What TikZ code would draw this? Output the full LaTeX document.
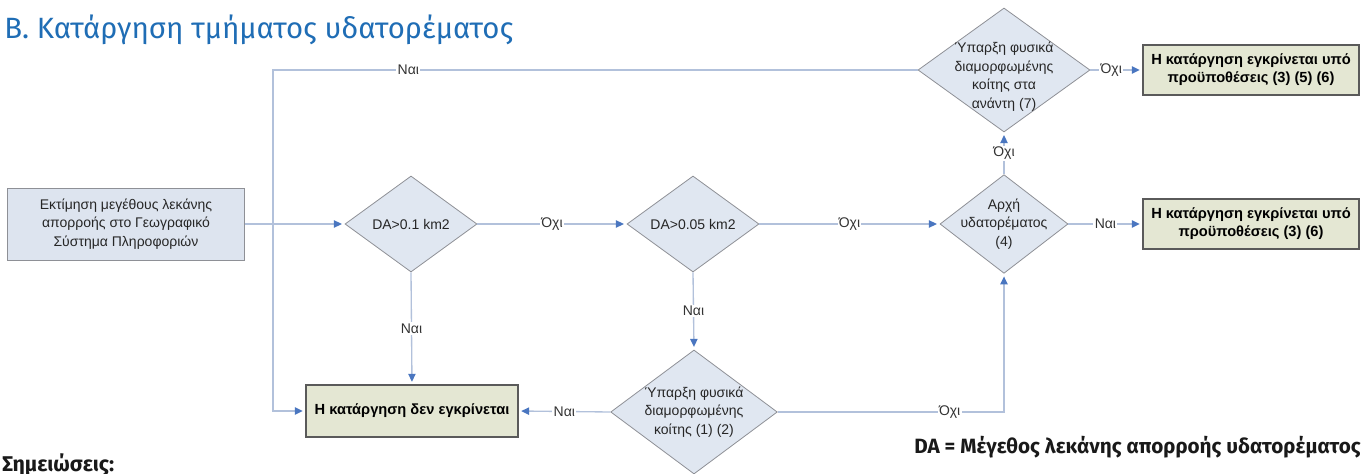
\documentclass[tikz,border=0pt]{standalone}
\usepackage{fontspec}
\setmainfont{Liberation Sans}
\newfontfamily\titlefont{Fira Sans}
\usetikzlibrary{shapes.geometric,arrows.meta}
\definecolor{lineblue}{HTML}{B2C1DB}
\definecolor{tipblue}{HTML}{4A76C0}
\definecolor{decfill}{HTML}{E0E7F1}
\definecolor{decdraw}{HTML}{8E9096}
\definecolor{endfill}{HTML}{E4E7D3}
\definecolor{enddraw}{HTML}{5A5A5A}
\definecolor{startfill}{HTML}{DDE4EF}
\definecolor{titleblue}{HTML}{1F6DB5}
\tikzset{
  decision/.style={diamond, draw=decdraw, fill=decfill, line width=0.6pt, inner sep=0pt},
  endbox/.style={rectangle, draw=enddraw, fill=endfill, line width=0.8pt, align=center, font=\fontsize{11}{13.5}\selectfont\bfseries},
  flow/.style={draw=lineblue, line width=1pt, -{Triangle[length=6pt,width=5.5pt,color=tipblue]}, shorten >=2pt},
  answer/.style={fill=white, inner sep=1pt, text=black!80, font=\fontsize{10.5}{12}\selectfont}
}
\begin{document}
\begin{tikzpicture}[x=0.75pt, y=-0.75pt, every label/.style={align=center, text=black!85, font=\fontsize{10.5}{14}\selectfont}]
\useasboundingbox (0,0) rectangle (1364,474);
\node[anchor=base west, inner sep=0pt, text=titleblue, font=\titlefont\fontsize{22}{26}\selectfont] (title) at (4,39) {B. Κατάργηση τμήματος υδατορέματος};

\node[rectangle, draw=decdraw, fill=startfill, line width=0.6pt, minimum width=177.75pt, minimum height=54pt, align=center, text=black!85, font=\fontsize{10.5}{14}\selectfont] (start) at (126,224) {Εκτίμηση μεγέθους λεκάνης\\απορροής στο Γεωγραφικό\\Σύστημα Πληροφοριών};

\node[decision, minimum width=99pt, minimum height=72pt, label={center:DA>0.1 km2}] (da1) at (411,224) {};
\node[decision, minimum width=99pt, minimum height=72pt, label={center:DA>0.05 km2}] (da2) at (693,224) {};
\node[decision, minimum width=96pt, minimum height=74pt, label={center:{Αρχή\\υδατορέματος\\(4)}}] (arxi) at (1004,224) {};
\node[decision, minimum width=129pt, minimum height=93pt, label={[yshift=-5pt]center:{Ύπαρξη φυσικά\\διαμορφωμένης\\κοίτης στα\\ανάντη (7)}}] (anadi) at (1004,70) {};
\node[decision, minimum width=125pt, minimum height=93pt, label={center:{Ύπαρξη φυσικά\\διαμορφωμένης\\κοίτης (1) (2)}}] (koiti) at (694,412) {};

\node[endbox, minimum width=162pt, minimum height=37.5pt] (yes356) at (1251,70) {Η κατάργηση εγκρίνεται υπό\\προϋποθέσεις (3) (5) (6)};
\node[endbox, minimum width=162pt, minimum height=37.5pt] (yes36) at (1251,224) {Η κατάργηση εγκρίνεται υπό\\προϋποθέσεις (3) (6)};
\node[endbox, minimum width=159pt, minimum height=39pt] (no) at (412,411) {Η κατάργηση δεν εγκρίνεται};

\coordinate (topleft) at (273,70);

\draw[flow] (start.east) -- (da1.west);
\draw[flow] (da1.east) -- node[answer]{Όχι} (da2.west);
\draw[flow] (da2.east) -- node[answer]{Όχι} (arxi.west);
\draw[flow] (arxi.east) -- node[answer]{Ναι} (yes36.west);
\draw[flow] (arxi.north) -- node[answer]{Όχι} (anadi.south);
\draw[flow] (anadi.east) -- node[answer, pos=0.4]{Όχι} (yes356.west);
\draw[flow] (da1.south) -- node[answer]{Ναι} (no.north);
\draw[flow] (da2.south) -- node[answer]{Ναι} (koiti.north);
\draw[flow] (koiti.west) -- node[answer]{Ναι} (no.east);
\draw[flow] (koiti.east) -| node[answer, pos=0.38]{Όχι} (arxi.south);
\draw[flow] (anadi.west) -- node[answer, pos=0.79]{Ναι} (topleft) |- (no.west);

\node[anchor=base east, inner sep=0pt, text=black!90, font=\titlefont\bfseries\fontsize{15.5}{18}\selectfont] (danote) at (1361,453) {DA = Μέγεθος λεκάνης απορροής υδατορέματος};
\node[anchor=base west, inner sep=0pt, text=black!90, font=\titlefont\bfseries\fontsize{16}{19}\selectfont] (notes) at (2,471) {Σημειώσεις:};
\end{tikzpicture}
\end{document}
